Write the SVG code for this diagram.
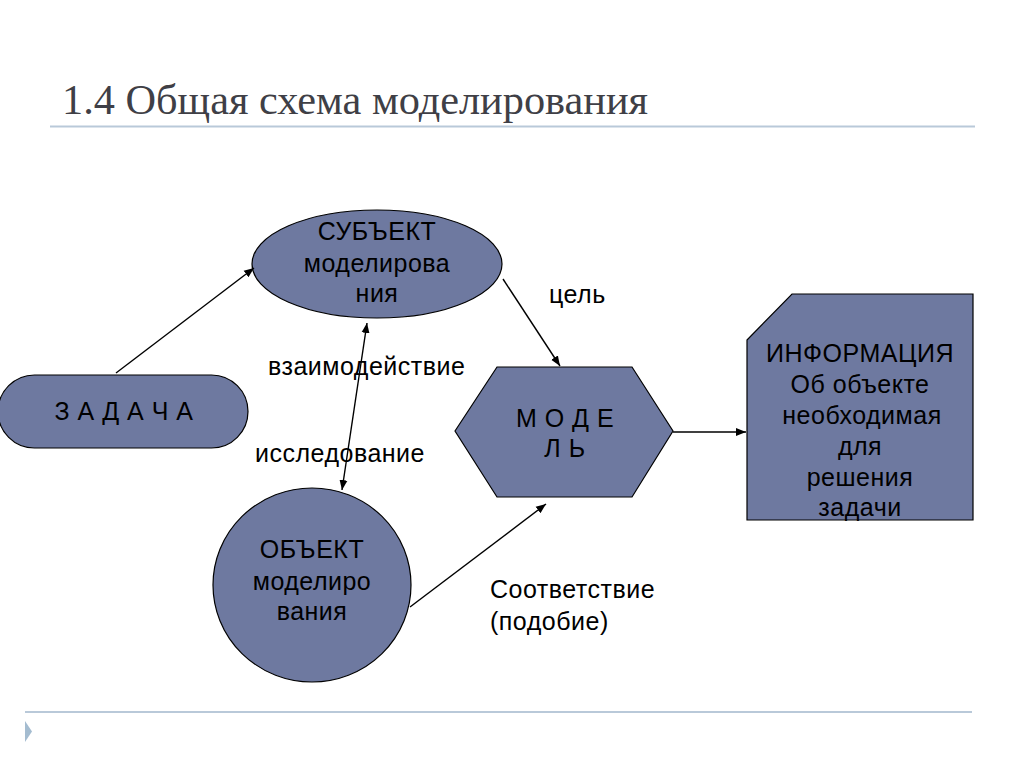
<svg xmlns="http://www.w3.org/2000/svg" width="1024" height="767" viewBox="0 0 1024 767">
<defs>
<marker id="ah" viewBox="0 0 10 10" refX="10" refY="5" markerWidth="10" markerHeight="10" markerUnits="userSpaceOnUse" orient="auto-start-reverse">
<path d="M0,1 L10,5 L0,9 z" fill="#000"/>
</marker>
<style>
.shape{fill:#6e79a0;stroke:#000;stroke-width:1.2}
.t{font-family:"Liberation Sans",Arial,sans-serif;font-size:25px;letter-spacing:0.5px;fill:#000;text-anchor:middle}
.lbl{font-family:"Liberation Sans",Arial,sans-serif;font-size:25px;letter-spacing:0.5px;fill:#000}
.conn line{stroke:#000;stroke-width:1.4;marker-end:url(#ah)}
</style>
</defs>
<rect width="1024" height="767" fill="#fff"/>
<text x="62" y="114" font-family="Liberation Serif,serif" font-size="42" fill="#3f3f46" textLength="586" lengthAdjust="spacingAndGlyphs">1.4 Общая схема моделирования</text>
<line x1="50" y1="126.5" x2="975" y2="126.5" stroke="#b9c9d9" stroke-width="2"/>
<line x1="25" y1="712" x2="972" y2="712" stroke="#b9c9d9" stroke-width="2"/>
<polygon points="25,721 32,731.5 25,742" fill="#a4bcd0"/>

<g id="zadacha">
<rect class="shape" x="-2" y="375" width="250" height="73" rx="36.5" ry="36.5"/>
<text class="t" x="124" y="420">З А Д А Ч А</text>
</g>
<g id="subject">
<ellipse class="shape" cx="377" cy="264" rx="125" ry="54"/>
<text class="t" x="377" y="240">СУБЪЕКТ</text>
<text class="t" x="377" y="272">моделирова</text>
<text class="t" x="377" y="302">ния</text>
</g>
<g id="model">
<polygon class="shape" points="455,431 497,367 632,367 673,431 632,497 497,497"/>
<text class="t" x="565" y="427">М О Д Е</text>
<text class="t" x="565" y="457">Л Ь</text>
</g>
<g id="info">
<polygon class="shape" points="747,340 792,294 973,294 973,520 747,520"/>
<text class="t" x="860" y="362">ИНФОРМАЦИЯ</text>
<text class="t" x="860" y="393">Об объекте</text>
<text class="t" x="862" y="424">необходимая</text>
<text class="t" x="860" y="455">для</text>
<text class="t" x="860" y="486">решения</text>
<text class="t" x="860" y="516">задачи</text>
</g>
<g id="object">
<ellipse class="shape" cx="312" cy="585" rx="99" ry="97"/>
<text class="t" x="312" y="558">ОБЪЕКТ</text>
<text class="t" x="312" y="590">моделиро</text>
<text class="t" x="312" y="620">вания</text>
</g>
<g id="connectors" class="conn">
<line x1="116" y1="373" x2="254" y2="268"/>
<line x1="503" y1="279" x2="560" y2="366"/>
<line x1="342" y1="490" x2="367" y2="323" style="marker-start:url(#ah)"/>
<line x1="410" y1="607" x2="546" y2="504"/>
<line x1="673" y1="432" x2="746" y2="432"/>
</g>
<g id="labels">
<text class="lbl" x="549" y="303">цель</text>
<text class="lbl" x="268" y="375">взаимодействие</text>
<text class="lbl" x="255" y="462">исследование</text>
<text class="lbl" x="490" y="598">Соответствие</text>
<text class="lbl" x="490" y="630">(подобие)</text>
</g>
</svg>
